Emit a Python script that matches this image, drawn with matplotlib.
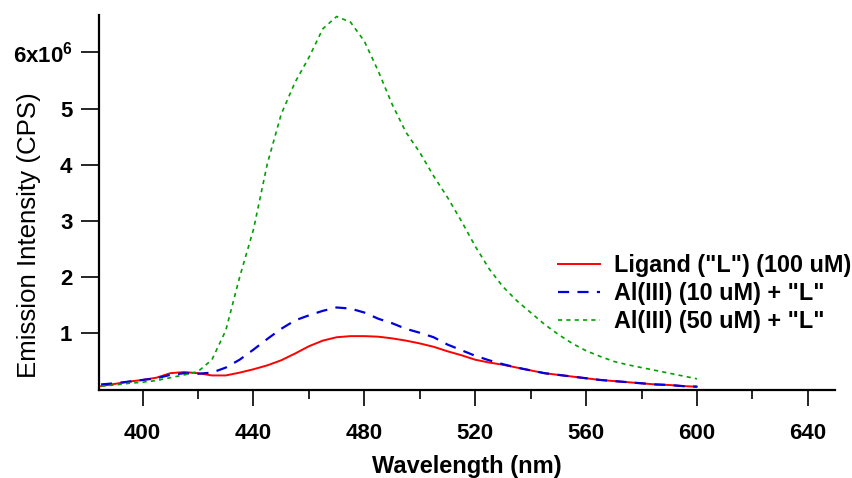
import matplotlib
matplotlib.use('Agg')
import matplotlib.pyplot as plt
from matplotlib.ticker import FixedLocator, FixedFormatter

# emission spectra, intensity in units of 10^6 CPS
wavelength = [385, 390, 395, 400, 405, 410, 415, 420, 425, 430, 435, 440, 445, 450,
              455, 460, 465, 470, 475, 480, 485, 490, 495, 500, 505, 510, 515, 520,
              525, 530, 535, 540, 545, 550, 555, 560, 565, 570, 575, 580, 585, 590,
              595, 600]
ligand = [0.06, 0.10, 0.14, 0.17, 0.21, 0.29, 0.31, 0.29, 0.25, 0.25, 0.30, 0.36, 0.43, 0.52,
          0.64, 0.77, 0.87, 0.93, 0.95, 0.95, 0.94, 0.91, 0.87, 0.82, 0.76, 0.68, 0.61, 0.53,
          0.48, 0.44, 0.39, 0.34, 0.29, 0.26, 0.23, 0.20, 0.17, 0.15, 0.13, 0.11, 0.09, 0.08,
          0.06, 0.05]
al_10 = [0.09, 0.11, 0.14, 0.17, 0.20, 0.26, 0.29, 0.28, 0.30, 0.39, 0.53, 0.71, 0.90, 1.08,
         1.23, 1.32, 1.40, 1.46, 1.44, 1.37, 1.26, 1.18, 1.08, 1.01, 0.93, 0.80, 0.70, 0.60,
         0.52, 0.45, 0.39, 0.34, 0.29, 0.26, 0.23, 0.20, 0.17, 0.15, 0.13, 0.11, 0.09, 0.08,
         0.06, 0.05]
al_50 = [0.06, 0.08, 0.11, 0.13, 0.16, 0.21, 0.26, 0.32, 0.53, 1.05, 2.00, 2.85, 4.02, 4.90,
         5.47, 5.91, 6.42, 6.64, 6.54, 6.20, 5.67, 5.08, 4.58, 4.22, 3.80, 3.42, 3.00, 2.55,
         2.15, 1.83, 1.58, 1.37, 1.16, 0.98, 0.82, 0.69, 0.59, 0.50, 0.44, 0.39, 0.34, 0.29,
         0.24, 0.19]

series_labels = ['Ligand ("L") (100 uM)', 'Al(III) (10 uM) + "L"', 'Al(III) (50 uM) + "L"']
y_ticks = [1, 2, 3, 4, 5, 6]
y_ticklabels = ['1', '2', '3', '4', '5', r'6x10$^{6}$']
x_major = [400, 440, 480, 520, 560, 600, 640]
x_minor = [420, 460, 500, 540, 580, 620]

plt.rcParams['font.family'] = ['Liberation Sans', 'DejaVu Sans']
plt.rcParams['mathtext.fontset'] = 'custom'
plt.rcParams['mathtext.rm'] = 'Liberation Sans:bold'
plt.rcParams['mathtext.default'] = 'rm'
plt.rcParams['lines.scale_dashes'] = False

fig = plt.figure(figsize=(8.52, 4.78), dpi=100)
ax = fig.add_axes([0.116, 0.184, 0.864, 0.785])

ax.plot(wavelength, ligand, color='#ff0000', lw=1.4, label=series_labels[0])
ax.plot(wavelength, al_10, color='#0000dd', lw=1.6, dashes=(8, 6), label=series_labels[1])
ax.plot(wavelength, al_50, color='#00a000', lw=1.2, dashes=(3, 3), label=series_labels[2])

ax.set_xlim(384.2, 649.8)
ax.set_ylim(-0.01, 6.67)

ax.spines['top'].set_visible(False)
ax.spines['right'].set_visible(False)
ax.spines['left'].set_linewidth(1.6)
ax.spines['bottom'].set_linewidth(1.6)

ax.xaxis.set_major_locator(FixedLocator(x_major))
ax.xaxis.set_minor_locator(FixedLocator(x_minor))
ax.yaxis.set_major_locator(FixedLocator(y_ticks))
ax.yaxis.set_major_formatter(FixedFormatter(y_ticklabels))
ax.tick_params(axis='x', which='major', length=11.5, width=1.2, pad=12, labelsize=16)
ax.tick_params(axis='x', which='minor', length=6.5, width=1.2)
ax.tick_params(axis='y', which='major', length=13, width=1.2, pad=6, labelsize=16)
for lbl in ax.get_xticklabels() + ax.get_yticklabels():
    lbl.set_fontweight('bold')

ax.set_xlabel('Wavelength (nm)', fontsize=17, fontweight='bold', labelpad=8)
ax.set_ylabel('Emission Intensity (CPS)', fontsize=18.6)
ax.yaxis.set_label_coords(-0.079, 0.413)

leg = ax.legend(loc='center left', bbox_to_anchor=(0.6555, 0.386), bbox_transform=fig.transFigure,
                frameon=False, handlelength=1.8, handletextpad=0.56, labelspacing=0.215,
                borderpad=0, borderaxespad=0, prop={'weight': 'bold', 'size': 16.8})

fig.savefig('out.png', dpi=100)
